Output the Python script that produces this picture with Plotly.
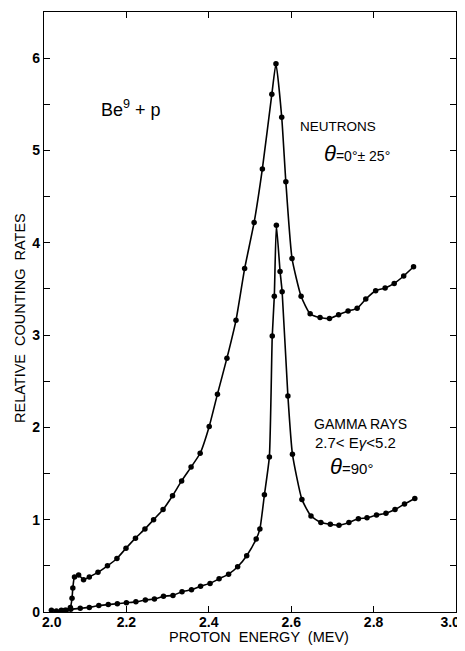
import plotly.graph_objects as go

# Neutrons, theta = 0 +/- 25 deg
neutron_e = [2.018, 2.030, 2.042, 2.054, 2.064, 2.068, 2.070, 2.074, 2.084, 2.096,
             2.110, 2.131, 2.154, 2.177, 2.199, 2.222, 2.245, 2.266, 2.289, 2.312,
             2.334, 2.357, 2.379, 2.401, 2.421, 2.444, 2.466, 2.487, 2.510, 2.530,
             2.553, 2.563, 2.577, 2.587, 2.602, 2.624, 2.646, 2.670, 2.693, 2.715,
             2.738, 2.760, 2.781, 2.805, 2.828, 2.850, 2.873, 2.897]
neutron_rate = [0.02, 0.01, 0.02, 0.02, 0.05, 0.15, 0.26, 0.38, 0.40, 0.35,
                0.38, 0.43, 0.50, 0.58, 0.69, 0.80, 0.90, 1.00, 1.11, 1.26,
                1.42, 1.57, 1.72, 2.01, 2.36, 2.75, 3.16, 3.72, 4.22, 4.80,
                5.61, 5.94, 5.36, 4.66, 3.83, 3.42, 3.23, 3.19, 3.18, 3.22,
                3.26, 3.29, 3.39, 3.48, 3.51, 3.56, 3.64, 3.74]

# Gamma rays, 2.7 < E_gamma < 5.2, theta = 90 deg
gamma_e = [2.051, 2.065, 2.088, 2.110, 2.133, 2.156, 2.178, 2.200, 2.223, 2.246,
           2.268, 2.290, 2.313, 2.335, 2.358, 2.380, 2.403, 2.425, 2.448, 2.470,
           2.492, 2.515, 2.524, 2.535, 2.547, 2.554, 2.559, 2.564, 2.573, 2.578,
           2.592, 2.603, 2.626, 2.648, 2.672, 2.695, 2.716, 2.740, 2.763, 2.784,
           2.807, 2.830, 2.852, 2.875, 2.900]
gamma_rate = [0.02, 0.03, 0.04, 0.05, 0.07, 0.08, 0.09, 0.10, 0.11, 0.13,
              0.14, 0.17, 0.18, 0.22, 0.24, 0.28, 0.31, 0.36, 0.41, 0.49,
              0.61, 0.79, 0.90, 1.27, 1.68, 2.99, 3.42, 4.19, 3.69, 3.47,
              2.34, 1.71, 1.22, 1.04, 0.97, 0.95, 0.94, 0.97, 1.01, 1.02,
              1.05, 1.07, 1.11, 1.17, 1.23]

x_ticks = [2.0, 2.2, 2.4, 2.6, 2.8, 3.0]
x_tick_labels = ["\u00a0\u00a0\u00a0\u00a02.0", "2.2", "2.4", "2.6", "2.8",
                 "3.0\u00a0\u00a0\u00a0"]
y_ticks = [0, 1, 2, 3, 4, 5, 6]
y_tick_labels = ["0", "1", "2", "3", "4", "5", "6"]

FONT = "Liberation Sans, Arial, sans-serif"

# The page body has an 8px default margin; the figure is placed at (8, 8).
OFF = 8
W, H = 465, 651 - OFF
pl, pr, pt, pb = 44 - OFF, 9 + OFF, 12 - OFF, 39

fig = go.Figure()
for xs, ys in [(neutron_e, neutron_rate), (gamma_e, gamma_rate)]:
    fig.add_trace(go.Scatter(
        x=xs, y=ys, mode="lines+markers",
        line=dict(color="black", width=1.6, shape="spline", smoothing=0.5),
        marker=dict(color="black", size=5.5),
        showlegend=False, hoverinfo="skip"))

axis_common = dict(showgrid=False, zeroline=False, showline=True, linecolor="black",
                   linewidth=1.2, mirror="allticks", ticks="inside", ticklen=6,
                   tickcolor="black", tickwidth=1.2, automargin=False,
                   tickfont=dict(family=FONT, size=14, color="black", weight="bold"))

fig.update_xaxes(range=[2.0, 3.0], tickvals=x_ticks, ticktext=x_tick_labels,
                 ticklabelstandoff=-3, **axis_common)
fig.update_yaxes(range=[0, 6.5], tickvals=y_ticks, ticktext=y_tick_labels,
                 minor=dict(dtick=0.5, ticks="inside", ticklen=6, tickcolor="black",
                            tickwidth=1.2, showgrid=False),
                 **axis_common)

def f(size):
    return dict(family=FONT, size=size, color="black")

annotations = [
    dict(x=131, y=108, text="Be<sup>9</sup> + p", font=f(18)),
    dict(x=338, y=127, text="NEUTRONS", font=f(13.5)),
    dict(x=357, y=153, text="<i><span style='font-size:22px'>θ</span></i>=0°± 25°", font=f(14)),
    dict(x=360, y=424, text="GAMMA RAYS", font=f(14)),
    dict(x=355, y=442, text="2.7< E<i>γ</i><5.2", font=f(15)),
    dict(x=351, y=466, text="<i><span style='font-size:22px'>θ</span></i>=90°", font=f(15)),
    dict(x=259, y=637, text="PROTON  ENERGY  (MEV)", font=f(14.5)),
    dict(x=20, y=318, text="RELATIVE  COUNTING  RATES", font=f(14.5), textangle=-90),
]
pw, ph = W - pl - pr, H - pt - pb
for a in annotations:
    px = a["x"] - OFF
    py = a["y"] - OFF
    fig.add_annotation(x=(px - pl) / pw, y=1 - (py - pt) / ph, xref="paper", yref="paper",
                       text=a["text"], font=a["font"], showarrow=False,
                       textangle=a.get("textangle", 0), xanchor="center", yanchor="middle")

fig.update_layout(width=W, height=H, margin=dict(l=pl, r=pr, t=pt, b=pb),
                  plot_bgcolor="white", paper_bgcolor="white")

fig.write_html("out.html")
